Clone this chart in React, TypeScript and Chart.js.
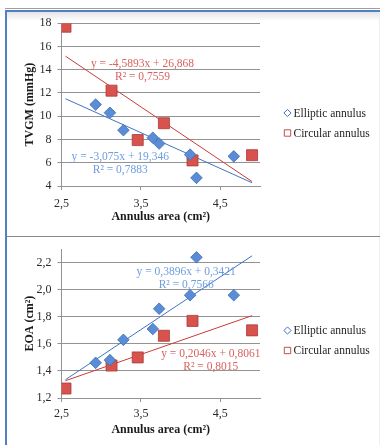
import React, { useEffect, useRef } from 'react';
import { Chart, registerables } from 'chart.js';
Chart.register(...registerables);

// ---------- data ----------
const SERIES_NAMES = ['Elliptic annulus', 'Circular annulus'];

const ELLIPTIC_X = [2.93, 3.11, 3.28, 3.65, 3.73, 4.12, 4.2, 4.67];
const ELLIPTIC_TVGM = [11.0, 10.3, 8.8, 8.15, 7.65, 6.7, 4.7, 6.55];
const ELLIPTIC_EOA = [1.46, 1.48, 1.63, 1.71, 1.86, 1.96, 2.24, 1.96];

const CIRCULAR_X = [2.55, 3.13, 3.46, 3.79, 4.15, 4.9];
const CIRCULAR_TVGM = [17.7, 12.2, 7.95, 9.4, 6.2, 6.65];
const CIRCULAR_EOA = [1.27, 1.44, 1.5, 1.66, 1.77, 1.7];

// trendline coefficients [slope, intercept] and x-span
const TREND_X = [2.55, 4.9];
const TVGM_TREND_ELLIPTIC = [-3.075, 19.346];
const TVGM_TREND_CIRCULAR = [-4.5893, 26.868];
const EOA_TREND_ELLIPTIC = [0.3896, 0.3421];
const EOA_TREND_CIRCULAR = [0.2046, 0.8061];

const TVGM_LABEL_ELLIPTIC = ['y = -3,075x + 19,346', 'R² = 0,7883'];
const TVGM_LABEL_CIRCULAR = ['y = -4,5893x + 26,868', 'R² = 0,7559'];
const EOA_LABEL_ELLIPTIC = ['y = 0,3896x + 0,3421', 'R² = 0,7566'];
const EOA_LABEL_CIRCULAR = ['y = 0,2046x + 0,8061', 'R² = 0,8015'];

// axes
const X_MIN = 2.5;
const X_MAX = 5;
const X_TICKS = [2.5, 3.5, 4.5];
const X_TICK_LABELS = ['2,5', '3,5', '4,5'];

const TVGM_Y_TICKS = [4, 6, 8, 10, 12, 14, 16, 18];
const TVGM_Y_TICK_LABELS = ['4', '6', '8', '10', '12', '14', '16', '18'];
const EOA_Y_TICKS = [1.2, 1.4, 1.6, 1.8, 2.0, 2.2];
const EOA_Y_TICK_LABELS = ['1,2', '1,4', '1,6', '1,8', '2,0', '2,2'];

// ---------- styles ----------
const FONT = "'Liberation Serif', 'Times New Roman', serif";
const BLUE_FILL = '#5a8dd6';
const BLUE_EDGE = '#3d6cb5';
const RED_FILL = '#d8524e';
const RED_EDGE = '#a93c39';
const BLUE_LINE = '#3f73c6';
const RED_LINE = '#cc3a36';
const BLUE_TEXT = '#6c9de0';
const RED_TEXT = '#d9625e';
const GRID = '#939393';

const trendLabelsPlugin = {
  id: 'trendLabels',
  afterDatasetsDraw(chart: any, _args: any, opts: any) {
    const { ctx, scales } = chart;
    ctx.save();
    ctx.font = `11.5px ${FONT}`;
    ctx.textAlign = 'center';
    ctx.textBaseline = 'middle';
    for (const it of opts.items || []) {
      const px = scales.x.getPixelForValue(it.at[0]);
      const py = scales.y.getPixelForValue(it.at[1]);
      ctx.fillStyle = it.color;
      it.lines.forEach((t: string, i: number) => ctx.fillText(t, px, py + i * 12.8));
    }
    ctx.restore();
  },
};

const sideLegendPlugin = {
  id: 'sideLegend',
  afterDraw(chart: any) {
    const { ctx, chartArea } = chart;
    const items = chart.data.datasets.filter((d: any) => d.inLegend);
    const cy = chart.height / 2;
    const gap = 20;
    ctx.save();
    ctx.font = `11.5px ${FONT}`;
    ctx.textAlign = 'left';
    ctx.textBaseline = 'middle';
    items.forEach((d: any, i: number) => {
      const y = cy + (i - (items.length - 1) / 2) * gap;
      const mx = chartArea.right + 27.5;
      ctx.lineWidth = 1;
      ctx.strokeStyle = d.legendStroke;
      ctx.fillStyle = '#ffffff';
      ctx.beginPath();
      if (d.pointStyle === 'rectRot') {
        const r = 3.6;
        ctx.moveTo(mx - r, y);
        ctx.lineTo(mx, y - r);
        ctx.lineTo(mx + r, y);
        ctx.lineTo(mx, y + r);
        ctx.closePath();
      } else {
        const h = 3.2;
        ctx.rect(mx - h, y - h, 2 * h, 2 * h);
      }
      ctx.fill();
      ctx.stroke();
      ctx.fillStyle = '#1e1e1e';
      ctx.fillText(d.label, chartArea.right + 33.5, y + 0.5);
    });
    ctx.restore();
  },
};

type Spec = {
  yTitle: string;
  yMin: number;
  yMax: number;
  yTicks: number[];
  yTickLabels: string[];
  elliptic: number[];
  circular: number[];
  trendE: number[];
  trendC: number[];
  labelE: string[];
  labelC: string[];
  anchorE: number[];
  anchorC: number[];
  padTop: number;
  xHeight: number;
  xTitleBottom: number;
  xTickPad: number;
};

function trend(coef: number[]) {
  return TREND_X.map((x) => ({ x, y: coef[0] * x + coef[1] }));
}

function buildConfig(s: Spec): any {
  const tickFont = { family: FONT, size: 12 };
  const titleFont = { family: FONT, size: 12, weight: 'bold' as const };
  return {
    type: 'scatter',
    data: {
      datasets: [
        {
          label: SERIES_NAMES[0],
          data: ELLIPTIC_X.map((x, i) => ({ x, y: s.elliptic[i] })),
          pointStyle: 'rectRot',
          pointRadius: 5.8,
          backgroundColor: BLUE_FILL,
          borderColor: BLUE_EDGE,
          borderWidth: 0.8,
          inLegend: true,
          legendStroke: '#3f72c4',
          order: 0,
        },
        {
          label: SERIES_NAMES[1],
          data: CIRCULAR_X.map((x, i) => ({ x, y: s.circular[i] })),
          pointStyle: 'rect',
          pointRadius: 7.8,
          backgroundColor: RED_FILL,
          borderColor: RED_EDGE,
          borderWidth: 0.8,
          inLegend: true,
          legendStroke: '#c0504d',
          order: 0,
        },
        {
          label: 'trend E',
          data: trend(s.trendE),
          showLine: true,
          pointRadius: 0,
          borderColor: BLUE_LINE,
          borderWidth: 1,
          order: 1,
        },
        {
          label: 'trend C',
          data: trend(s.trendC),
          showLine: true,
          pointRadius: 0,
          borderColor: RED_LINE,
          borderWidth: 1,
          order: 1,
        },
      ],
    },
    options: {
      animation: false,
      responsive: false,
      devicePixelRatio: 1,
      events: [],
      layout: { padding: { left: 0, top: s.padTop, right: 120, bottom: 0 } },
      plugins: {
        legend: { display: false },
        tooltip: { enabled: false },
        trendLabels: {
          items: [
            { at: s.anchorC, lines: s.labelC, color: RED_TEXT },
            { at: s.anchorE, lines: s.labelE, color: BLUE_TEXT },
          ],
        },
      },
      scales: {
        x: {
          type: 'linear',
          min: X_MIN,
          max: X_MAX,
          afterBuildTicks: (sc: any) => {
            sc.ticks = X_TICKS.map((v) => ({ value: v }));
          },
          afterFit: (sc: any) => {
            sc.height = s.xHeight;
          },
          ticks: {
            callback: (_v: any, i: number) => X_TICK_LABELS[i],
            font: tickFont,
            color: '#2b2b2b',
            padding: s.xTickPad,
            maxRotation: 0,
            autoSkip: false,
          },
          grid: { drawOnChartArea: false, drawTicks: true, tickLength: 4, color: GRID },
          border: { display: true, color: GRID, width: 1 },
          title: {
            display: true,
            text: 'Annulus area (cm²)',
            font: titleFont,
            color: '#1a1a1a',
            padding: { top: 0, bottom: s.xTitleBottom },
          },
        },
        y: {
          type: 'linear',
          min: s.yMin,
          max: s.yMax,
          afterBuildTicks: (sc: any) => {
            sc.ticks = s.yTicks.map((v) => ({ value: v }));
          },
          afterFit: (sc: any) => {
            sc.width = 61.5;
          },
          ticks: {
            callback: (_v: any, i: number) => s.yTickLabels[i],
            font: tickFont,
            color: '#2b2b2b',
            padding: 6,
            autoSkip: false,
          },
          grid: { drawTicks: true, tickLength: 4, color: GRID, lineWidth: 1 },
          border: { display: true, color: GRID, width: 1 },
          title: {
            display: true,
            text: s.yTitle,
            font: titleFont,
            color: '#1a1a1a',
            padding: { top: 22.8, bottom: 0 },
          },
        },
      },
    },
    plugins: [trendLabelsPlugin, sideLegendPlugin],
  };
}

const TOP_SPEC: Spec = {
  yTitle: 'TVGM (mmHg)',
  yMin: 4,
  yMax: 18,
  yTicks: TVGM_Y_TICKS,
  yTickLabels: TVGM_Y_TICK_LABELS,
  elliptic: ELLIPTIC_TVGM,
  circular: CIRCULAR_TVGM,
  trendE: TVGM_TREND_ELLIPTIC,
  trendC: TVGM_TREND_CIRCULAR,
  labelE: TVGM_LABEL_ELLIPTIC,
  labelC: TVGM_LABEL_CIRCULAR,
  anchorE: [3.24, 6.47],
  anchorC: [3.52, 14.48],
  padTop: 10,
  xHeight: 50,
  xTitleBottom: 12.3,
  xTickPad: 7,
};

const BOTTOM_SPEC: Spec = {
  yTitle: 'EOA (cm²)',
  yMin: 1.2,
  yMax: 2.3,
  yTicks: EOA_Y_TICKS,
  yTickLabels: EOA_Y_TICK_LABELS,
  elliptic: ELLIPTIC_EOA,
  circular: CIRCULAR_EOA,
  trendE: EOA_TREND_ELLIPTIC,
  trendC: EOA_TREND_CIRCULAR,
  labelE: EOA_LABEL_ELLIPTIC,
  labelC: EOA_LABEL_CIRCULAR,
  anchorE: [4.07, 2.132],
  anchorC: [4.38, 1.522],
  padTop: 6,
  xHeight: 47,
  xTitleBottom: 8.3,
  xTickPad: 4.5,
};

function Panel({ spec, top, height }: { spec: Spec; top: number; height: number }) {
  const ref = useRef<HTMLCanvasElement>(null);
  useEffect(() => {
    const chart = new Chart(ref.current as HTMLCanvasElement, buildConfig(spec));
    return () => chart.destroy();
  }, [spec]);
  return (
    <canvas
      ref={ref}
      width={380}
      height={height}
      style={{ position: 'absolute', left: 0, top, width: 380, height, display: 'block' }}
    />
  );
}

export default function App() {
  return (
    <div
      style={{
        position: 'absolute',
        left: 0,
        top: 0,
        width: 380,
        height: 445,
        background: '#ffffff',
        overflow: 'hidden',
      }}
    >
      <div style={{ position: 'absolute', left: 5, right: 0, top: 8, height: 1, background: '#a0a0a0' }} />
      <div
        style={{
          position: 'absolute',
          left: 7,
          right: 0,
          top: 12,
          height: 9,
          background: 'linear-gradient(#e4e4e4, rgba(255,255,255,0))',
        }}
      />
      <div style={{ position: 'absolute', left: 5, right: 0, top: 10, height: 2, background: '#4f81c4' }} />
      <div style={{ position: 'absolute', left: 5, width: 2, top: 10, bottom: 0, background: '#4f81c4' }} />
      <div style={{ position: 'absolute', left: 379, width: 1, top: 12, bottom: 0, background: '#eeeeee' }} />
      <div style={{ position: 'absolute', left: 7, right: 0, top: 236, height: 1, background: '#8a8a8a' }} />
      <Panel spec={TOP_SPEC} top={10} height={226} />
      <Panel spec={BOTTOM_SPEC} top={236} height={209} />
    </div>
  );
}
